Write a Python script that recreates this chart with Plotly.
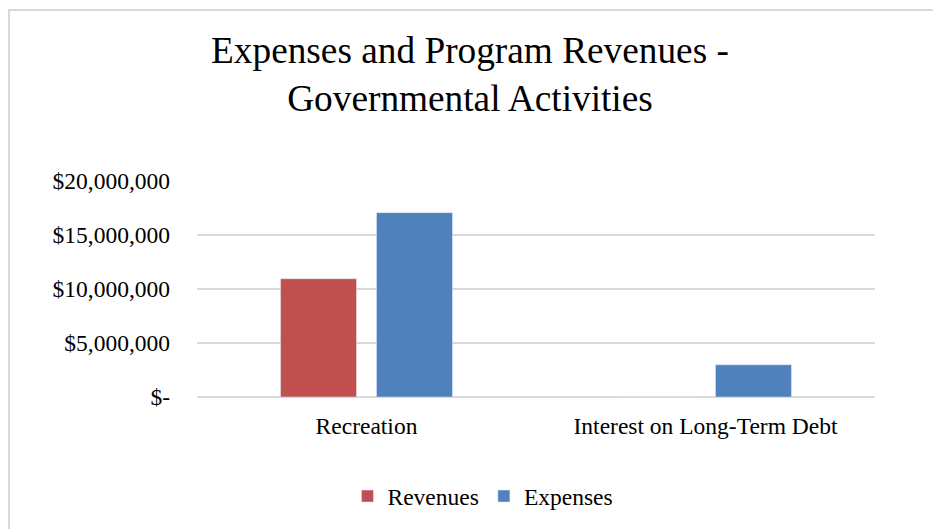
import plotly.graph_objects as go

categories = ["Recreation", "Interest on Long-Term Debt"]
revenues = [10940000, 0]
expenses = [17060000, 2980000]
tick_vals = [0, 5000000, 10000000, 15000000, 20000000]
tick_text = ["$-", "$5,000,000", "$10,000,000", "$15,000,000", "$20,000,000"]

FONT = "Liberation Serif, Times New Roman, serif"

fig = go.Figure()
fig.add_trace(go.Bar(name="Revenues", x=categories, y=revenues, marker_color="#C0504D"))
fig.add_trace(go.Bar(name="Expenses", x=categories, y=expenses, marker_color="#4F81BD"))

W, H = 941, 529
OFF = 8  # page body offset
PL, PR, PT, PB = 197, 875, 180, 397.5  # target plot-area edges on the page
pw, ph = PR - PL, PB - PT
L, T = PL - OFF, PT - OFF
R, B = W - L - pw, H - T - ph

def px(x):
    return (x - PL) / pw

def py(y):
    return (PB - y) / ph

YMAX = 20000000
fig.update_layout(
    width=W, height=H,
    margin=dict(l=L, r=R, t=T, b=B, pad=0),
    paper_bgcolor="white", plot_bgcolor="white",
    font=dict(family=FONT, size=23.5, color="#000000"),
    title=dict(
        text="Expenses and Program Revenues -<br>Governmental Activities",
        font=dict(family=FONT, size=37.3, color="#000000"),
        x=462 / W, xanchor="center", xref="container",
        y=1 - 55 / H, yanchor="top", yref="container",
    ),
    barmode="group",
    bargap=0.434,
    bargroupgap=0.208,
    showlegend=True,
    legend=dict(
        orientation="h",
        x=px(483), xanchor="center",
        y=py(497), yanchor="middle",
        font=dict(family=FONT, size=23.5, color="#000000"),
        bgcolor="rgba(0,0,0,0)",
    ),
    xaxis=dict(
        showgrid=False, showline=False, zeroline=False,
        ticks="", ticklabelstandoff=12,
        tickfont=dict(family=FONT, size=23.5, color="#000000"),
    ),
    yaxis=dict(
        range=[0, YMAX * 1.004],
        tickvals=tick_vals, ticktext=tick_text,
        showgrid=True, gridcolor="#D9D9D9", gridwidth=1.5,
        zeroline=True, zerolinecolor="#D9D9D9", zerolinewidth=1.5,
        showline=False, ticks="", ticklabelstandoff=26,
        tickfont=dict(family=FONT, size=23.5, color="#000000"),
    ),
    shapes=[dict(
        type="rect", xref="paper", yref="paper",
        x0=px(9), x1=px(960), y0=py(545), y1=py(9.5),
        line=dict(color="#D9D9D9", width=2), fillcolor="rgba(0,0,0,0)",
        layer="below",
    )],
)

fig.write_html("out.html")
